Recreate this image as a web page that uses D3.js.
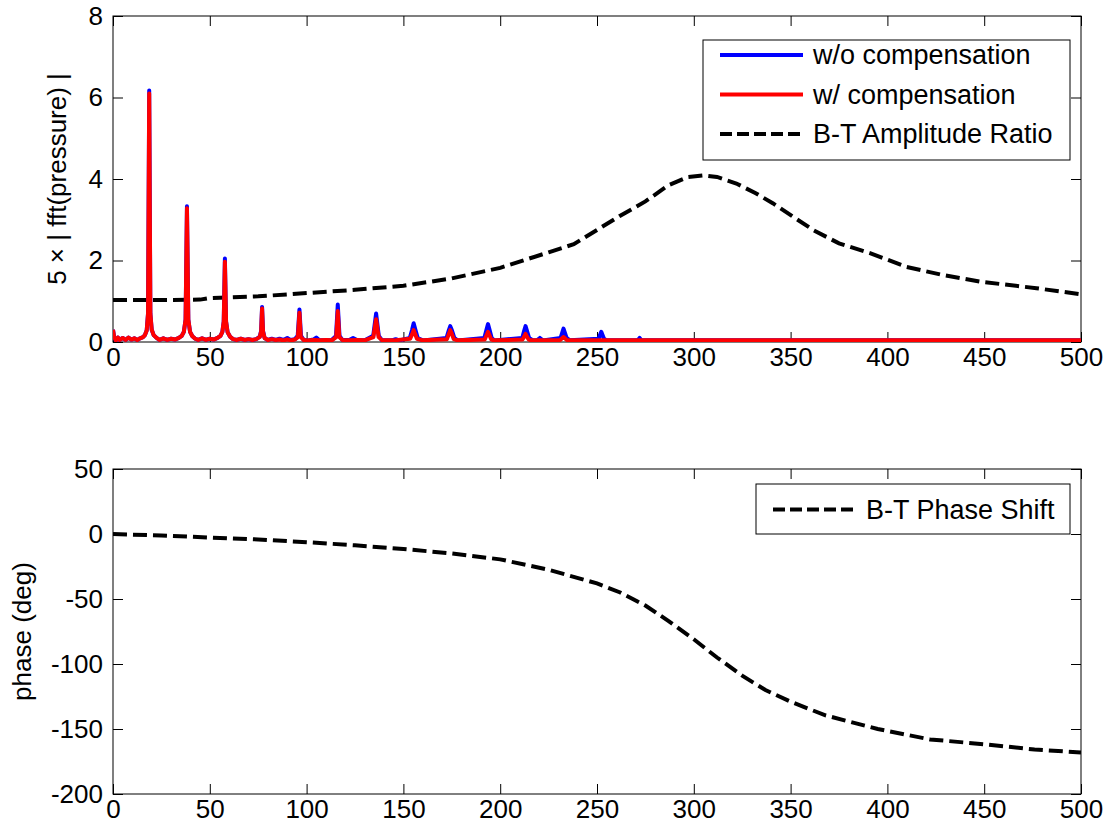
<!DOCTYPE html>
<html>
<head>
  <meta charset="utf-8">
  <title>FFT of pressure with B-T compensation</title>
  <script src="https://d3js.org/d3.v7.min.js"></script>
  <style>
    body { margin: 0; background: #fff; }
    text { font-family: "Liberation Sans", Arial, sans-serif; fill: #000; }
    .tick line { stroke: #000; stroke-width: 1; }
  </style>
</head>
<body>

  <svg width="1109" height="834"></svg>

  <script>
    // x ticks shared by both panels
    const xTicks = [0, 50, 100, 150, 200, 250, 300, 350, 400, 450, 500];
    const ampTicks = [0, 2, 4, 6, 8];
    const phaseTicks = [-200, -150, -100, -50, 0, 50];

    // |fft(pressure)| x 5, without compensation  [freq, value]
    const specWo = [
      [0,0.3],[0.6,0.12],[1.5,0.04],[2.5,0.11],[3.5,0.05],[5,0.1],[6.5,0.05],[8,0.11],[9.5,0.06],[11,0.09],
      [12.5,0.05],[14,0.09],[15.5,0.12],[16.5,0.17],[17.4,0.28],[18.1,0.7],[18.7,6.17],[19.3,0.7],[20,0.3],
      [21,0.17],[22.5,0.1],[24,0.05],[26,0.09],[28,0.05],[30,0.08],[32,0.06],[34,0.1],[35.5,0.15],[36.6,0.25],
      [37.5,0.55],[38.2,3.33],[38.9,0.55],[39.8,0.25],[41,0.14],[42.5,0.08],[44,0.05],[46,0.09],[48,0.05],
      [50,0.08],[52,0.06],[54,0.1],[55.5,0.15],[56.5,0.25],[57.2,0.5],[57.8,2.05],[58.4,0.5],[59.2,0.24],
      [60.5,0.13],[62,0.07],[64,0.05],[66,0.08],[68,0.05],[70,0.07],[72,0.05],[74,0.07],[75.8,0.13],[76.5,0.27],
      [77,0.86],[77.5,0.27],[78.3,0.1],[80,0.05],[82,0.08],[84,0.05],[86,0.08],[88,0.05],[90,0.1],[91.5,0.05],
      [94,0.07],[95.4,0.15],[96.3,0.8],[97.1,0.15],[98.5,0.05],[101,0.04],[103.5,0.06],[105,0.11],[106.5,0.05],
      [110,0.04],[113,0.05],[115.2,0.15],[116.1,0.92],[117,0.15],[118.5,0.05],[122,0.05],[124,0.1],[126,0.05],
      [130,0.04],[134.4,0.15],[135.9,0.7],[137.3,0.15],[139,0.04],[144,0.04],[146,0.07],[148,0.04],[153.3,0.1],
      [154.5,0.3],[155.3,0.46],[156.2,0.3],[157.4,0.1],[160,0.04],[172.3,0.1],[173.4,0.28],[174.2,0.39],
      [175.1,0.28],[176.3,0.1],[178,0.04],[191.8,0.1],[192.9,0.3],[193.7,0.44],[194.5,0.3],[195.6,0.1],[197,0.04],
      [211.4,0.1],[212.4,0.28],[213.1,0.39],[213.8,0.28],[214.9,0.1],[217,0.04],[219,0.04],[220.5,0.1],[222,0.04],
      [231.2,0.1],[232.1,0.24],[232.7,0.33],[233.3,0.24],[234.3,0.1],[236,0.04],[250.9,0.08],[251.6,0.18],
      [252.2,0.25],[252.8,0.18],[253.6,0.08],[255,0.04],[271.2,0.05],[272,0.1],[272.8,0.05],[274,0.04],[500,0.04]
    ];

    // with compensation
    const specW = [
      [0,0.3],[0.6,0.12],[1.5,0.04],[2.5,0.11],[3.5,0.05],[5,0.1],[6.5,0.05],[8,0.11],[9.5,0.06],[11,0.09],
      [12.5,0.05],[14,0.09],[15.5,0.12],[16.5,0.17],[17.4,0.28],[18.1,0.7],[18.7,6.1],[19.3,0.7],[20,0.3],
      [21,0.17],[22.5,0.1],[24,0.05],[26,0.09],[28,0.05],[30,0.08],[32,0.06],[34,0.1],[35.5,0.15],[36.6,0.25],
      [37.5,0.55],[38.2,3.28],[38.9,0.55],[39.8,0.25],[41,0.14],[42.5,0.08],[44,0.05],[46,0.09],[48,0.05],
      [50,0.08],[52,0.06],[54,0.1],[55.5,0.15],[56.5,0.25],[57.2,0.5],[57.8,1.97],[58.4,0.5],[59.2,0.24],
      [60.5,0.13],[62,0.07],[64,0.05],[66,0.08],[68,0.05],[70,0.07],[72,0.05],[74,0.07],[75.8,0.12],[76.5,0.25],
      [77,0.82],[77.5,0.25],[78.3,0.1],[80,0.05],[82,0.07],[84,0.05],[86,0.06],[88,0.04],[90,0.06],[92,0.04],
      [94,0.06],[95.5,0.12],[96.3,0.72],[97,0.12],[98.5,0.05],[101,0.04],[104,0.05],[107,0.04],[110,0.05],
      [113,0.04],[115.3,0.12],[116.1,0.76],[116.9,0.12],[118.5,0.05],[122,0.04],[126,0.05],[130,0.04],
      [134.5,0.12],[135.9,0.56],[137.2,0.12],[139,0.04],[145,0.04],[153.5,0.08],[154.6,0.2],[155.3,0.29],
      [156,0.2],[157,0.08],[160,0.04],[172.5,0.07],[173.5,0.2],[174.2,0.29],[175,0.2],[176,0.07],[178,0.04],
      [192,0.06],[193,0.17],[193.7,0.25],[194.4,0.17],[195.4,0.06],[197,0.04],[211.5,0.06],[212.5,0.14],
      [213.1,0.2],[213.7,0.14],[214.7,0.06],[216,0.04],[231,0.05],[232.7,0.12],[234.4,0.05],[236,0.04],[500,0.04]
    ];

    // B-T amplitude ratio
    const ampRatio = [
      [0,1.03],[25,1.03],[45,1.04],[50,1.08],[75,1.12],[100,1.2],[125,1.28],[150,1.38],[175,1.56],[200,1.82],
      [225,2.2],[238,2.4],[250,2.75],[262,3.1],[275,3.45],[287,3.85],[297,4.05],[305,4.09],[312,4.05],
      [322,3.89],[332,3.65],[341,3.4],[352,3.05],[362,2.74],[375,2.42],[391,2.18],[410,1.84],[429,1.64],
      [448,1.48],[477,1.32],[500,1.17]
    ];

    // B-T phase shift (deg)
    const phaseShift = [
      [0,0],[25,-1.2],[50,-2.7],[75,-4.2],[100,-6.3],[125,-8.7],[150,-11.5],[175,-15],[200,-19.5],[225,-27.5],
      [250,-38],[262,-45],[275,-55],[287,-67],[300,-81],[312,-95],[325,-109],[337,-120],[350,-129],[368,-139.5],
      [395,-150],[422,-158],[452,-162],[476,-165.8],[500,-168]
    ];

    const svg = d3.select("svg");
    const font = 26;

    function panel(box, yDomain, yTicks, yLabel, yLabelX, id) {
      const x = d3.scaleLinear().domain([0, 500]).range([box.left, box.right]);
      const y = d3.scaleLinear().domain(yDomain).range([box.bottom, box.top]);

      svg.append("clipPath").attr("id", id)
        .append("rect")
        .attr("x", box.left).attr("y", box.top - 3)
        .attr("width", box.right - box.left).attr("height", box.bottom - box.top + 3);

      const g = svg.append("g");

      // ticks on all four sides, pointing inward
      const styleAxis = sel => {
        sel.select(".domain").remove();
        sel.selectAll("text").style("font-size", font + "px");
      };
      g.append("g").attr("transform", `translate(0,${box.bottom})`)
        .call(d3.axisBottom(x).tickValues(xTicks).tickSizeInner(-10).tickSizeOuter(0).tickPadding(6)
          .tickFormat(d => String(d)))
        .call(styleAxis);
      g.append("g").attr("transform", `translate(0,${box.top})`)
        .call(d3.axisTop(x).tickValues(xTicks).tickSizeInner(-10).tickSizeOuter(0).tickFormat(""))
        .call(styleAxis);
      g.append("g").attr("transform", `translate(${box.left},0)`)
        .call(d3.axisLeft(y).tickValues(yTicks).tickSizeInner(-10).tickSizeOuter(0).tickPadding(10)
          .tickFormat(d => String(d)))
        .call(styleAxis);
      g.append("g").attr("transform", `translate(${box.right},0)`)
        .call(d3.axisRight(y).tickValues(yTicks).tickSizeInner(-10).tickSizeOuter(0).tickFormat(""))
        .call(styleAxis);

      g.append("rect")
        .attr("x", box.left).attr("y", box.top)
        .attr("width", box.right - box.left).attr("height", box.bottom - box.top)
        .attr("fill", "none").attr("stroke", "#000").attr("stroke-width", 1);

      g.append("text")
        .attr("transform", `translate(${yLabelX},${(box.top + box.bottom) / 2}) rotate(-90)`)
        .attr("text-anchor", "middle")
        .attr("dy", "0.35em")
        .style("font-size", font + "px")
        .text(yLabel);

      const plot = svg.append("g").attr("clip-path", `url(#${id})`);
      const line = d3.line().x(d => x(d[0])).y(d => y(d[1]));
      return { x, y, plot, line };
    }

    function legend(box, items) {
      const g = svg.append("g");
      g.append("rect")
        .attr("x", box.left).attr("y", box.top)
        .attr("width", box.right - box.left).attr("height", box.bottom - box.top)
        .attr("fill", "#fff").attr("stroke", "#000").attr("stroke-width", 1);
      items.forEach((it, i) => {
        const cy = box.firstRow + i * box.rowStep;
        g.append("line")
          .attr("x1", box.left + 17).attr("x2", box.left + 100)
          .attr("y1", cy).attr("y2", cy)
          .attr("stroke", it.color).attr("stroke-width", 4)
          .attr("stroke-dasharray", it.dash || null);
        g.append("text")
          .attr("x", box.left + 110).attr("y", cy)
          .attr("dy", "0.35em")
          .style("font-size", "27px")
          .text(it.label);
      });
    }

    // ---- top panel: spectrum
    const upper = panel({ left: 113, right: 1081, top: 16, bottom: 342 }, [0, 8], ampTicks,
      "5 \u00d7 | fft(pressure) |", 57, "clipTop");

    upper.plot.append("path").datum(ampRatio)
      .attr("d", upper.line).attr("fill", "none")
      .attr("stroke", "#000").attr("stroke-width", 4).attr("stroke-dasharray", "14,6");
    upper.plot.append("path").datum(specWo)
      .attr("d", upper.line).attr("fill", "none")
      .attr("stroke", "#0000ff").attr("stroke-width", 4).attr("stroke-linejoin", "round");
    upper.plot.append("path").datum(specW)
      .attr("d", upper.line).attr("fill", "none")
      .attr("stroke", "#ff0000").attr("stroke-width", 4).attr("stroke-linejoin", "round");

    legend({ left: 703, right: 1070, top: 40, bottom: 160, firstRow: 55, rowStep: 39.5 }, [
      { label: "w/o compensation", color: "#0000ff" },
      { label: "w/ compensation", color: "#ff0000" },
      { label: "B-T Amplitude Ratio", color: "#000", dash: "12,5" }
    ]);

    // ---- bottom panel: phase
    const lower = panel({ left: 113, right: 1081, top: 469, bottom: 794 }, [-200, 50], phaseTicks,
      "phase (deg)", 22, "clipBot");

    lower.plot.append("path").datum(phaseShift)
      .attr("d", lower.line).attr("fill", "none")
      .attr("stroke", "#000").attr("stroke-width", 4).attr("stroke-dasharray", "14,6");

    legend({ left: 756, right: 1070, top: 484, bottom: 534, firstRow: 509.5, rowStep: 0 }, [
      { label: "B-T Phase Shift", color: "#000", dash: "12,5" }
    ]);
  </script>

</body>
</html>
